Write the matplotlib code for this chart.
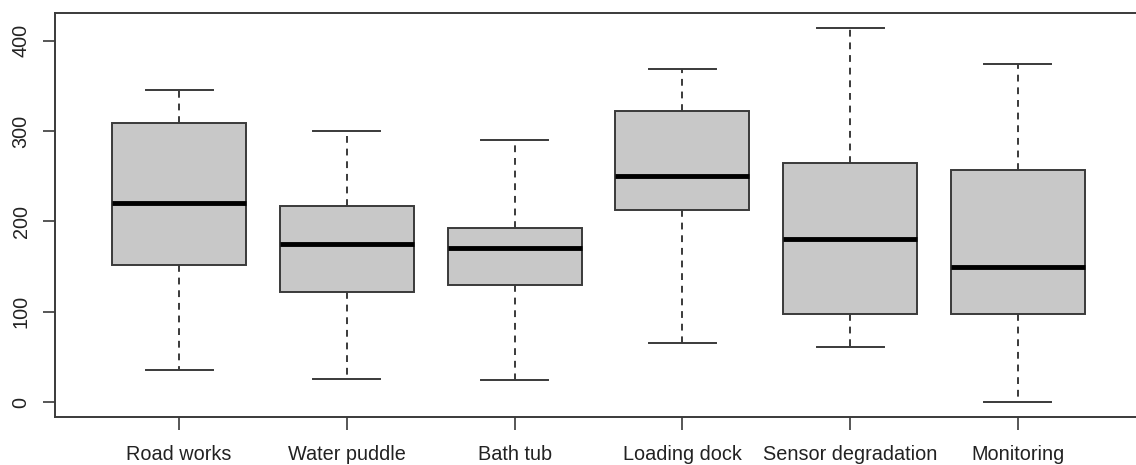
import matplotlib
matplotlib.use("Agg")
import matplotlib.pyplot as plt

# values
categories = ["Road works", "Water puddle", "Bath tub", "Loading dock",
              "Sensor degradation", "Monitoring"]
whisker_low = [35, 26, 25, 65, 61, 0]
q1 = [152, 122, 130, 212, 98, 98]
median = [220, 175, 170, 250, 181, 150]
q3 = [309, 217, 193, 322, 265, 257]
whisker_high = [345, 300, 290, 369, 414, 374]
y_ticks = [0, 100, 200, 300, 400]

plt.rcParams['font.family'] = ['Liberation Sans', 'DejaVu Sans']

stats = []
for i, name in enumerate(categories):
    stats.append({
        "label": name,
        "whislo": whisker_low[i],
        "q1": q1[i],
        "med": median[i],
        "q3": q3[i],
        "whishi": whisker_high[i],
        "fliers": [],
    })

fig = plt.figure(figsize=(11.36, 4.65), dpi=100)
ax = fig.add_axes([0.0484, 0.1032, 0.9569, 0.8688])

edge = "#3a3a3a"
ax.bxp(stats, positions=range(1, len(categories) + 1), widths=0.8,
       patch_artist=True, showfliers=False,
       boxprops=dict(facecolor="#c8c8c8", edgecolor=edge, linewidth=1.4),
       medianprops=dict(color="black", linewidth=3.5, solid_capstyle="butt"),
       whiskerprops=dict(color=edge, linewidth=1.4, linestyle=(0, (3.5, 3))),
       capprops=dict(color=edge, linewidth=1.4),
       capwidths=0.4)

ax.set_xlim(0.26, 6.74)
ax.set_ylim(-16.5, 430.5)
ax.set_yticks(y_ticks)
ax.set_yticklabels([str(v) for v in y_ticks], rotation=90, va="center")
ax.set_xticks(range(1, len(categories) + 1))
ax.set_xticklabels(categories)

for s in ax.spines.values():
    s.set_color(edge)
    s.set_linewidth(1.4)
ax.tick_params(axis="both", length=9, width=1.2, color=edge,
               labelsize=14.3, labelcolor="#222222")
ax.tick_params(axis="x", pad=11)
ax.tick_params(axis="y", pad=8.5)

fig.savefig("out.png", dpi=100)
